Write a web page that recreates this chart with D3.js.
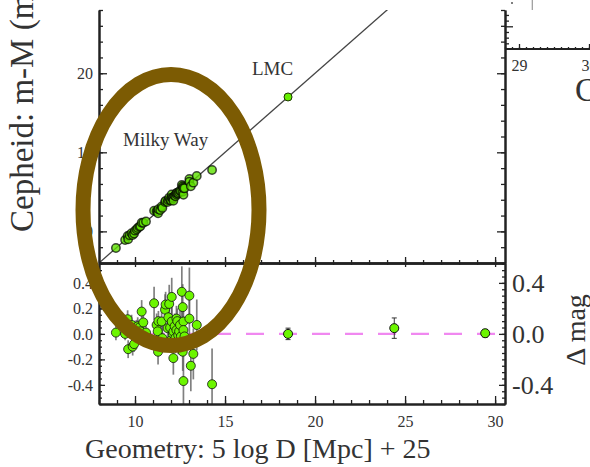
<!DOCTYPE html>
<html>
<head>
<meta charset="utf-8">
<script src="https://cdn.jsdelivr.net/npm/d3@7"></script>
<style>
  body { margin: 0; background: #fff; }
  text { font-family: "Liberation Serif", "DejaVu Serif", serif; fill: #333; }
</style>
</head>
<body>
<div id="chart"></div>
<script>
// Milky Way parallax sample: geometric distance modulus, residual and error
const geomMW = [8.94, 9.45, 9.59, 9.62, 9.70, 9.81, 9.87, 9.95, 10.00, 10.09,
  10.15, 10.24, 10.30, 10.37, 10.46, 10.61, 11.06, 11.20, 11.26, 11.28,
  11.30, 11.40, 11.48, 11.52, 11.67, 11.70, 11.81, 11.85, 11.90, 11.95,
  12.00, 12.04, 12.04, 12.10, 12.13, 12.13, 12.20, 12.25, 12.30, 12.30,
  12.35, 12.40, 12.45, 12.50, 12.55, 12.60, 12.65, 12.65, 12.69, 12.69,
  12.69, 12.75, 13.02, 13.02, 13.10, 13.24, 13.43, 14.28];
const deltaMW = [0.01, 0.00, 0.115, -0.12, 0.06, 0.07, -0.10, -0.08, 0.045, 0.03,
  0.06, 0.05, 0.02, 0.175, 0.09, 0.01, 0.24, 0.07, 0.02, -0.14,
  0.10, -0.05, 0.097, -0.034, 0.19, 0.23, 0.045, 0.13, 0.235, 0.05,
  -0.05, 0.29, 0.097, 0.00, 0.018, -0.19, 0.06, -0.03, 0.03, 0.12,
  0.10, -0.01, 0.02, 0.07, -0.02, 0.33, 0.21, -0.14, 0.097, -0.37,
  0.03, -0.02, 0.30, 0.12, -0.25, -0.157, 0.07, -0.395];
const errMW = [0.06, 0.05, 0.07, 0.07, 0.06, 0.08, 0.07, 0.06, 0.06, 0.08,
  0.07, 0.06, 0.06, 0.09, 0.10, 0.10, 0.13, 0.09, 0.10, 0.10,
  0.08, 0.08, 0.12, 0.10, 0.12, 0.10, 0.10, 0.10, 0.15, 0.08,
  0.10, 0.15, 0.12, 0.10, 0.12, 0.13, 0.10, 0.12, 0.09, 0.10,
  0.10, 0.15, 0.10, 0.12, 0.11, 0.20, 0.18, 0.15, 0.13, 0.25,
  0.10, 0.12, 0.22, 0.20, 0.20, 0.20, 0.20, 0.28];

// LMC, NGC 4258 and the far galaxy
const geomFar = [18.5, 24.4, 29.45];
const deltaFar = [0.0, 0.045, 0.005];
const errFar = [0.045, 0.08, 0.03];

const xTicks = [10, 15, 20, 25, 30];
const topYTicks = [10, 15, 20];
const resLeftTicks = [-0.4, -0.2, 0.0, 0.2, 0.4];
const resRightLabels = [-0.4, 0.0, 0.4];

// neighbour panel (cut off on the right)
const nbXTicks = [29, 30];
const nbYMajor = [0];
const nbYMinor = [-0.6, -0.4, -0.2, 0.2, 0.4];

const width = 590, height = 467;
const left = 99, right = 505, topY = 10, mid = 263, bottom = 404;

const svg = d3.select("#chart")
  .append("svg")
  .attr("width", width)
  .attr("height", height);

const x = d3.scaleLinear().domain([8, 30.55]).range([left, right]);
const yTop = d3.scaleLinear().domain([8, 24]).range([mid, topY]);
const yRes = d3.scaleLinear().domain([-0.55, 0.556]).range([bottom, mid]);

const fmt = d => d3.format(".1f")(d).replace("\u2212", "-");

svg.append("clipPath").attr("id", "clipTop")
  .append("rect").attr("x", left).attr("y", topY)
  .attr("width", right - left).attr("height", mid - topY);
svg.append("clipPath").attr("id", "clipRes")
  .append("rect").attr("x", left).attr("y", mid)
  .attr("width", right - left).attr("height", bottom - mid);

const styleAxis = g => {
  g.selectAll("path.domain").attr("stroke", "#222").attr("stroke-width", 2);
  g.selectAll(".tick line").attr("stroke", "#222").attr("stroke-width", 1.3);
};

// ---------- top panel ----------
const topPlot = svg.append("g").attr("clip-path", "url(#clipTop)");
topPlot.append("line")
  .attr("x1", x(8)).attr("y1", yTop(8))
  .attr("x2", x(30.55)).attr("y2", yTop(30.55))
  .attr("stroke", "#444").attr("stroke-width", 1.3);

topPlot.selectAll("circle.mw")
  .data(geomMW.map((g, i) => ({g, d: deltaMW[i]})))
  .join("circle")
  .attr("cx", d => x(d.g))
  .attr("cy", d => yTop(d.g + d.d))
  .attr("r", 4.2)
  .attr("fill", "#5ee000")
  .attr("fill-opacity", 0.8)
  .attr("stroke", "#000")
  .attr("stroke-opacity", 0.7)
  .attr("stroke-width", 1.5);

topPlot.selectAll("circle.far")
  .data(geomFar.map((g, i) => ({g, d: deltaFar[i]})))
  .join("circle")
  .attr("cx", d => x(d.g))
  .attr("cy", d => yTop(d.g + d.d))
  .attr("r", 4)
  .attr("fill", "#66f000")
  .attr("stroke", "#1c3300")
  .attr("stroke-width", 1);

svg.append("text").attr("x", 252).attr("y", 75)
  .style("font-size", "19px").text("LMC");
svg.append("text").attr("x", 123).attr("y", 146)
  .style("font-size", "19px").text("Milky Way");

// top panel axes
svg.append("g").attr("transform", `translate(${left},0)`)
  .call(d3.axisLeft(yTop).tickValues(d3.range(8, 24.5, 1)).tickSize(-4).tickFormat("").tickSizeOuter(0))
  .call(styleAxis);
svg.append("g").attr("transform", `translate(${left},0)`)
  .call(d3.axisLeft(yTop).tickValues(topYTicks).tickSize(-8).tickPadding(6).tickSizeOuter(0))
  .call(styleAxis)
  .call(g => g.selectAll("text").style("font-size", "16px"));
svg.append("g").attr("transform", `translate(${right},0)`)
  .call(d3.axisRight(yTop).tickValues(d3.range(8, 24.5, 1)).tickSize(-4).tickFormat("").tickSizeOuter(0))
  .call(styleAxis);
svg.append("g").attr("transform", `translate(${right},0)`)
  .call(d3.axisRight(yTop).tickValues(topYTicks).tickSize(-8).tickFormat("").tickSizeOuter(0))
  .call(styleAxis);

// shared middle axis: ticks up into top panel, down into residual panel
svg.append("g").attr("transform", `translate(0,${mid})`)
  .call(d3.axisBottom(x).tickValues(d3.range(8, 31, 1)).tickSize(-3).tickFormat("").tickSizeOuter(0))
  .call(styleAxis);
svg.append("g").attr("transform", `translate(0,${mid})`)
  .call(d3.axisBottom(x).tickValues(d3.range(8, 31, 1)).tickSize(2).tickFormat("").tickSizeOuter(0))
  .call(styleAxis);
svg.append("g").attr("transform", `translate(0,${mid})`)
  .call(d3.axisBottom(x).tickValues(xTicks).tickSize(-6).tickFormat("").tickSizeOuter(0))
  .call(styleAxis);
svg.append("g").attr("transform", `translate(0,${mid})`)
  .call(d3.axisBottom(x).tickValues(xTicks).tickSize(4).tickFormat("").tickSizeOuter(0))
  .call(styleAxis);

// ---------- residual panel ----------
const resPlot = svg.append("g").attr("clip-path", "url(#clipRes)");
resPlot.append("line")
  .attr("x1", left).attr("x2", right)
  .attr("y1", yRes(0)).attr("y2", yRes(0))
  .attr("stroke", "#f088f0").attr("stroke-width", 2.2)
  .attr("stroke-dasharray", "18,15").attr("stroke-dashoffset", 18);

resPlot.selectAll("line.err")
  .data(geomMW.map((g, i) => ({g, d: deltaMW[i], e: errMW[i]})))
  .join("line")
  .attr("x1", d => x(d.g)).attr("x2", d => x(d.g))
  .attr("y1", d => yRes(d.d - d.e)).attr("y2", d => yRes(d.d + d.e))
  .attr("stroke", "#555").attr("stroke-opacity", 0.75).attr("stroke-width", 1.7);

const farData = geomFar.map((g, i) => ({g, d: deltaFar[i], e: errFar[i]}));
resPlot.selectAll("path.errFar")
  .data(farData)
  .join("path")
  .attr("d", d => {
    const cx = x(d.g), y0 = yRes(d.d - d.e), y1 = yRes(d.d + d.e);
    return `M${cx - 2.5},${y0}H${cx + 2.5}M${cx},${y0}V${y1}M${cx - 2.5},${y1}H${cx + 2.5}`;
  })
  .attr("fill", "none").attr("stroke", "#333").attr("stroke-width", 1);

resPlot.selectAll("circle.mw")
  .data(geomMW.map((g, i) => ({g, d: deltaMW[i]})))
  .join("circle")
  .attr("cx", d => x(d.g))
  .attr("cy", d => yRes(d.d))
  .attr("r", 4.5)
  .attr("fill", "#6cf500")
  .attr("stroke", "#111")
  .attr("stroke-opacity", 0.8)
  .attr("stroke-width", 1);
resPlot.selectAll("circle.far")
  .data(farData)
  .join("circle")
  .attr("cx", d => x(d.g))
  .attr("cy", d => yRes(d.d))
  .attr("r", 4.5)
  .attr("fill", "#6cf500")
  .attr("stroke", "#111")
  .attr("stroke-width", 1);

// residual axes
svg.append("g").attr("transform", `translate(${left},0)`)
  .call(d3.axisLeft(yRes).tickValues(d3.range(-0.55, 0.56, 0.05)).tickSize(-3).tickFormat("").tickSizeOuter(0))
  .call(styleAxis);
svg.append("g").attr("transform", `translate(${left},0)`)
  .call(d3.axisLeft(yRes).tickValues(resLeftTicks).tickSize(-6).tickPadding(6).tickFormat(fmt).tickSizeOuter(0))
  .call(styleAxis)
  .call(g => g.selectAll("text").style("font-size", "16px"));
svg.append("g").attr("transform", `translate(${right},0)`)
  .call(d3.axisRight(yRes).tickValues(d3.range(-0.55, 0.56, 0.05)).tickSize(-3).tickFormat("").tickSizeOuter(0))
  .call(styleAxis);
svg.append("g").attr("transform", `translate(${right},0)`)
  .call(d3.axisRight(yRes).tickValues(resRightLabels).tickSize(-6).tickPadding(7).tickFormat(fmt).tickSizeOuter(0))
  .call(styleAxis)
  .call(g => g.selectAll("text").style("font-size", "26px"));

svg.append("g").attr("transform", `translate(0,${bottom})`)
  .call(d3.axisBottom(x).tickValues(d3.range(8, 31, 1)).tickSize(-4).tickFormat("").tickSizeOuter(0))
  .call(styleAxis);
svg.append("g").attr("transform", `translate(0,${bottom})`)
  .call(d3.axisBottom(x).tickValues(xTicks).tickSize(-8).tickPadding(12).tickSizeOuter(0))
  .call(styleAxis)
  .call(g => g.selectAll("text").style("font-size", "16px"));

// axis titles
svg.append("text")
  .attr("transform", "translate(33,232) rotate(-90)")
  .style("font-size", "33px")
  .attr("fill", "#111")
  .text("Cepheid: m-M (mag)");
svg.append("text")
  .attr("x", 85).attr("y", 458)
  .style("font-size", "28px")
  .text("Geometry: 5 log D [Mpc] + 25");
svg.append("text")
  .attr("transform", "translate(585,330) rotate(-90)")
  .attr("text-anchor", "middle")
  .style("font-size", "28px")
  .text("\u0394 mag");

// ---------- neighbour panel fragment ----------
const nbX = d3.scaleLinear().domain([29, 30]).range([519, 589]);
const nbY = d3.scaleLinear().domain([-0.8, 1.35]).range([49, -12]);
svg.append("g").attr("transform", "translate(0,49)")
  .call(d3.axisBottom(nbX).tickValues(d3.range(28.8, 30.3, 0.1)).tickSize(-2).tickFormat("").tickSizeOuter(0))
  .call(g => g.select("path.domain").remove())
  .call(styleAxis);
svg.append("line").attr("x1", right).attr("x2", width)
  .attr("y1", 49).attr("y2", 49).attr("stroke", "#222").attr("stroke-width", 2);
svg.append("g").attr("transform", "translate(0,49)")
  .call(d3.axisBottom(nbX).tickValues(nbXTicks).tickSize(-5).tickPadding(11).tickFormat(d3.format("d")).tickSizeOuter(0))
  .call(g => g.select("path.domain").remove())
  .call(styleAxis)
  .call(g => g.selectAll("text").style("font-size", "16px"));
svg.append("g").attr("transform", `translate(${right},0)`)
  .call(d3.axisRight(nbY).tickValues(nbYMinor).tickSize(4).tickFormat("").tickSizeOuter(0))
  .call(g => g.select("path.domain").remove())
  .call(styleAxis);
svg.append("g").attr("transform", `translate(${right},0)`)
  .call(d3.axisRight(nbY).tickValues(nbYMajor).tickSize(8).tickFormat("").tickSizeOuter(0))
  .call(g => g.select("path.domain").remove())
  .call(styleAxis);
svg.append("line").attr("x1", nbX(29.19)).attr("x2", nbX(29.19))
  .attr("y1", 0).attr("y2", 10).attr("stroke", "#999").attr("stroke-width", 1.2);
svg.append("circle").attr("cx", nbX(28.9)).attr("cy", 3).attr("r", 1).attr("fill", "#555");
svg.append("text").attr("x", 575).attr("y", 101)
  .style("font-size", "33px").attr("fill", "#111").text("Cepheid");

// highlight ring
svg.append("ellipse")
  .attr("cx", 171).attr("cy", 210)
  .attr("rx", 88).attr("ry", 135.5)
  .attr("fill", "none")
  .attr("stroke", "#7c5b03")
  .attr("stroke-width", 15);
</script>
</body>
</html>
